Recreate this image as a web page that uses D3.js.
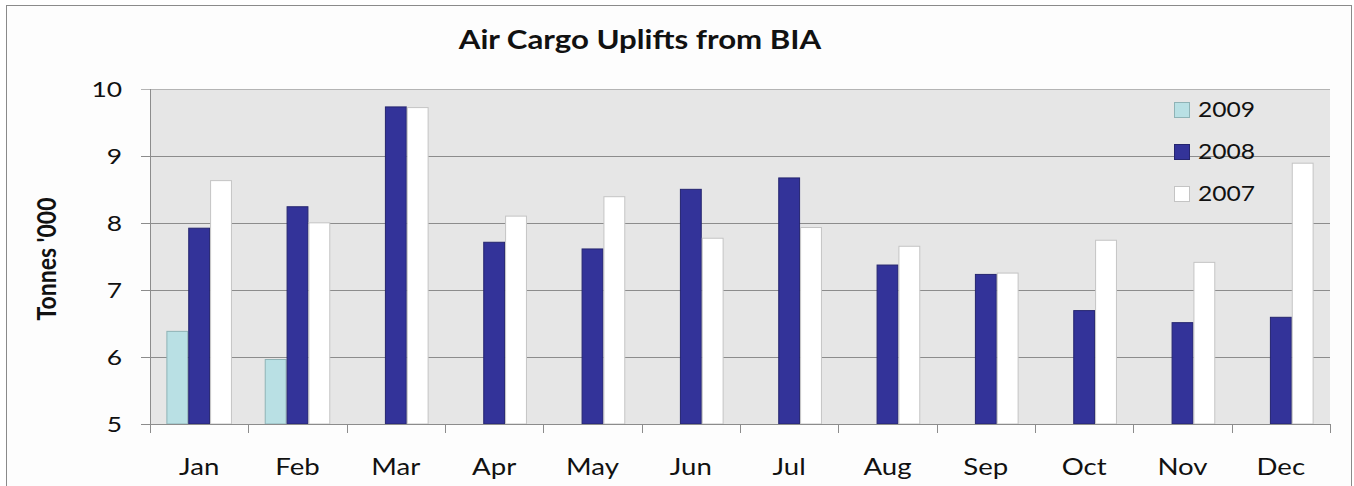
<!DOCTYPE html>
<html>
<head>
<meta charset="utf-8">
<script src="https://cdn.jsdelivr.net/npm/d3@7"></script>
<style>
  body { margin: 0; background: #fff; }
  text { font-family: Lato, "Open Sans", sans-serif; fill: #111; }
</style>
</head>
<body>
<div id="chart"></div>
<script>
const months = ["Jan", "Feb", "Mar", "Apr", "May", "Jun", "Jul", "Aug", "Sep", "Oct", "Nov", "Dec"];
const seriesNames = ["2009", "2008", "2007"];
const values2009 = [6.39, 5.97, null, null, null, null, null, null, null, null, null, null];
const values2008 = [7.93, 8.25, 9.74, 7.72, 7.62, 8.51, 8.68, 7.38, 7.24, 6.70, 6.52, 6.60];
const values2007 = [8.64, 8.01, 9.73, 8.11, 8.40, 7.78, 7.94, 7.66, 7.26, 7.75, 7.42, 8.90];
const yTicks = [5, 6, 7, 8, 9, 10];

const fills = { "2009": "#b9e0e4", "2008": "#333399", "2007": "#ffffff" };
const strokes = { "2009": "#8fb3b6", "2008": "#25256f", "2007": "#c4c4c4" };

// the source picture is stretched sideways, so text is widened too
const sx = 1.2;

const W = 1354, H = 486;
const margin = { top: 89, right: 24, bottom: 62, left: 150 },
      width = W - margin.left - margin.right,
      height = H - margin.top - margin.bottom;

const root = d3.select("#chart")
    .append("svg")
    .attr("width", W)
    .attr("height", H);

// outer frame
root.append("rect")
    .attr("x", 6.5).attr("y", 5.5)
    .attr("width", 1345).attr("height", 500)
    .attr("fill", "#fdfdfd")
    .attr("stroke", "#8a8a8a");

const svg = root.append("g")
    .attr("transform", `translate(${margin.left},${margin.top})`);

const x0 = d3.scaleBand().domain(months).range([0, width]).paddingInner(0).paddingOuter(0);
const x1 = d3.scaleBand().domain(seriesNames).range([0, x0.bandwidth()]).paddingInner(0).paddingOuter(0.75);
const y = d3.scaleLinear().domain([5, 10]).range([height, 0]);

// plot background
svg.append("rect")
    .attr("width", width).attr("height", height)
    .attr("fill", "#e6e6e6");

// gridlines
svg.append("g")
    .selectAll("line")
    .data(yTicks.filter(d => d > 5))
    .enter().append("line")
    .attr("x1", -9).attr("x2", width)
    .attr("y1", d => Math.round(y(d)) + 0.5)
    .attr("y2", d => Math.round(y(d)) + 0.5)
    .attr("stroke", d => d === 10 ? "#b4b4b4" : "#8c8c8c")
    .attr("stroke-width", 1);

// y labels
svg.append("g")
    .selectAll("text")
    .data(yTicks)
    .enter().append("text")
    .attr("transform", d => `translate(-28,${y(d)}) scale(${sx},1)`)
    .attr("dy", "0.36em")
    .attr("text-anchor", "end")
    .style("font-size", "22px")
    .text(d => d);

// bars
const data = months.map((m, i) => ({
    month: m,
    vals: [
        { key: "2009", v: values2009[i] },
        { key: "2008", v: values2008[i] },
        { key: "2007", v: values2007[i] }
    ].filter(d => d.v != null)
}));

svg.append("g")
    .selectAll("g")
    .data(data)
    .enter().append("g")
    .attr("transform", d => `translate(${x0(d.month)},0)`)
    .selectAll("rect")
    .data(d => d.vals)
    .enter().append("rect")
    .attr("x", d => x1(d.key) + 0.5)
    .attr("y", d => y(d.v) + 0.5)
    .attr("width", x1.bandwidth() - 1)
    .attr("height", d => y(5) - y(d.v) - 0.5)
    .attr("fill", d => fills[d.key])
    .attr("stroke", d => strokes[d.key])
    .attr("stroke-width", 1);

// axes lines
svg.append("line")
    .attr("x1", 0.5).attr("x2", 0.5).attr("y1", 0).attr("y2", height + 9)
    .attr("stroke", "#8c8c8c");
svg.append("line")
    .attr("x1", -9).attr("x2", width).attr("y1", Math.round(height) + 0.5).attr("y2", Math.round(height) + 0.5)
    .attr("stroke", "#8c8c8c");

const xAxis = svg.append("g")
    .attr("transform", `translate(0,${height})`);
xAxis.selectAll("line")
    .data(months.map(m => x0(m)).concat([width]))
    .enter().append("line")
    .attr("x1", d => Math.round(d) + 0.5).attr("x2", d => Math.round(d) + 0.5)
    .attr("y1", 0).attr("y2", 9)
    .attr("stroke", "#8c8c8c");
xAxis.selectAll("text")
    .data(months)
    .enter().append("text")
    .attr("transform", d => `translate(${x0(d) + x0.bandwidth() / 2},43) scale(${sx},1)`)
    .attr("dy", "0.36em")
    .attr("text-anchor", "middle")
    .style("font-size", "23px")
    .text(d => d);

// title
root.append("text")
    .attr("transform", `translate(640,40) scale(${sx},1)`)
    .attr("dy", "0.36em")
    .attr("text-anchor", "middle")
    .style("font-size", "26px")
    .style("font-weight", "bold")
    .text("Air Cargo Uplifts from BIA");

// y axis title
root.append("text")
    .attr("transform", "translate(46,259) rotate(-90) scale(1,1.15)")
    .attr("dy", "0.36em")
    .attr("text-anchor", "middle")
    .style("font-size", "23px")
    .style("font-weight", "bold")
    .text("Tonnes '000");

// legend
const legend = root.append("g")
    .attr("transform", "translate(1174,110)");
seriesNames.forEach((s, i) => {
    legend.append("rect")
        .attr("x", 0.5).attr("y", i * 42 - 7.5)
        .attr("width", 15).attr("height", 15)
        .attr("fill", fills[s])
        .attr("stroke", strokes[s]);
    legend.append("text")
        .attr("transform", `translate(24,${i * 42}) scale(${sx},1)`)
        .attr("dy", "0.36em")
        .style("font-size", "20.5px")
        .text(s);
});
</script>
</body>
</html>
